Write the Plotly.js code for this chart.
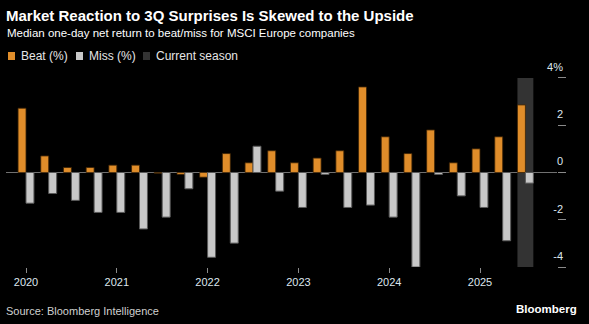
<!DOCTYPE html>
<html>
<head>
<meta charset="utf-8">
<script src="https://cdn.plot.ly/plotly-3.0.1.min.js"></script>
<style>
  html, body { margin: 0; padding: 0; background: #000; }
  #chart { width: 589px; height: 324px; }
</style>
</head>
<body>
<div id="chart"></div>
<script>
// ---- Data ----
const quarters = ["1Q20","2Q20","3Q20","4Q20","1Q21","2Q21","3Q21","4Q21",
                  "1Q22","2Q22","3Q22","4Q22","1Q23","2Q23","3Q23","4Q23",
                  "1Q24","2Q24","3Q24","4Q24","1Q25","2Q25","3Q25"];
const beat = [2.72, 0.70, 0.21, 0.21, 0.31, 0.31, -0.03, -0.08,
              -0.20, 0.80, 0.41, 0.92, 0.41, 0.61, 0.92, 3.62,
              1.51, 0.80, 1.80, 0.41, 1.00, 1.51, 2.86];
const miss = [-1.30, -0.89, -1.18, -1.69, -1.69, -2.39, -1.89, -0.69,
              -3.59, -2.99, 1.11, -0.79, -1.48, -0.08, -1.48, -1.38,
              -1.89, -4.00, -0.08, -0.99, -1.48, -2.89, -0.45];
const currentSeason = ["3Q25"];
const seasonLow = [-4];
const seasonHigh = [4];
const yearTickVals = ["1Q20","1Q21","1Q22","1Q23","1Q24","1Q25"];
const yearTickText = ["2020","2021","2022","2023","2024","2025"];
const yTickVals = [-4, -2, 0, 2, 4];
const yTickText = ["-4", "-2", "0", "2", "4%"];

// ---- Layout geometry ----
const W = 589, H = 324;
const UNIT = 23.66;              // px per 1 percentage point
const L = 6, R = 557, T = 45, B = 267.3;
const Y_MIN = -4, Y_MAX = Y_MIN + (B - T) / UNIT;
const PW = R - L, PH = B - T;
const px = x => (x - L) / PW;
const py = y => (B - y) / PH;

const FONT = "Liberation Sans, Arial, sans-serif";
const ORANGE = "#E08D2A";
const GREY = "#C8C8C8";
const SHADE = "#333333";

const traces = [
  {
    type: "bar", name: "Current season",
    x: currentSeason, y: seasonHigh.map((h, i) => h - seasonLow[i]), base: seasonLow,
    offset: -0.35, width: 0.70,
    marker: { color: SHADE, line: { width: 0 } },
    hoverinfo: "skip", showlegend: false
  },
  {
    type: "bar", name: "Beat (%)", x: quarters, y: beat,
    offset: -0.35, width: 0.35,
    marker: { color: ORANGE, line: { color: "rgba(60,35,5,0.8)", width: 1 } },
    showlegend: false
  },
  {
    type: "bar", name: "Miss (%)", x: quarters, y: miss,
    offset: 0, width: 0.35,
    marker: { color: GREY, line: { color: "#5a5a5a", width: 1 } },
    showlegend: false
  }
];

const legendItems = [
  { sq: [8, 15], tx: 19, label: "Beat (%)", color: ORANGE },
  { sq: [76, 83], tx: 87, label: "Miss (%)", color: GREY },
  { sq: [143, 150], tx: 154, label: "Current season", color: SHADE }
];

const shapes = legendItems.map(it => ({
  type: "rect", xref: "paper", yref: "paper",
  x0: px(it.sq[0]), x1: px(it.sq[1]), y0: py(60), y1: py(52),
  fillcolor: it.color, line: { width: 0 }
}));

const annotations = [
  {
    text: "Median one-day net return to beat/miss for MSCI Europe companies",
    xref: "paper", yref: "paper", x: px(5), y: py(33),
    xanchor: "left", yanchor: "middle", showarrow: false,
    font: { family: FONT, size: 11.5, color: "#ffffff" }
  },
  ...legendItems.map(it => ({
    text: it.label, xref: "paper", yref: "paper", x: px(it.tx), y: py(56),
    xanchor: "left", yanchor: "middle", showarrow: false,
    font: { family: FONT, size: 12, color: "#e6e6e6" }
  })),
  {
    text: "Source: Bloomberg Intelligence",
    xref: "paper", yref: "paper", x: px(4), y: py(311),
    xanchor: "left", yanchor: "middle", showarrow: false,
    font: { family: FONT, size: 11, color: "#d0d0d0" }
  },
  {
    text: "<b>Bloomberg</b>",
    xref: "paper", yref: "paper", x: px(579), y: py(309),
    xanchor: "right", yanchor: "middle", showarrow: false,
    font: { family: FONT, size: 11.5, color: "#ffffff" }
  }
];

const layout = {
  width: W, height: H,
  paper_bgcolor: "#000000", plot_bgcolor: "rgba(0,0,0,0)",
  margin: { l: L, r: W - R, t: T, b: H - B },
  barmode: "overlay",
  showlegend: false,
  font: { family: FONT, color: "#dddddd", size: 11 },
  title: {
    text: "<b>Market Reaction to 3Q Surprises Is Skewed to the Upside</b>",
    xref: "container", yref: "container",
    x: 6 / W, y: 1 - 16 / H, xanchor: "left", yanchor: "middle",
    font: { family: FONT, size: 15, color: "#ffffff" }
  },
  xaxis: {
    type: "category",
    categoryorder: "array", categoryarray: quarters,
    range: [(L - 26) / 22.7, (R - 26) / 22.7],
    tickmode: "array", tickvals: yearTickVals, ticktext: yearTickText,
    ticks: "outside", ticklen: 5, tickwidth: 1, tickcolor: "#8a8a8a",
    showgrid: false, showline: false, zeroline: false,
    tickfont: { family: FONT, size: 11, color: "#dde6ee" },
    fixedrange: true
  },
  yaxis: {
    side: "right",
    range: [Y_MIN, Y_MAX],
    tickmode: "array", tickvals: yTickVals, ticktext: yTickText,
    ticks: "outside", ticklen: 8, tickwidth: 1, tickcolor: "#8a8a8a",
    ticklabelposition: "inside",
    ticklabelstandoff: -9,
    ticklabelshift: -11,
    showgrid: false, showline: false,
    zeroline: true, zerolinecolor: "#707070", zerolinewidth: 1.5,
    tickfont: { family: FONT, size: 11, color: "#dde6ee" },
    fixedrange: true
  },
  shapes: shapes,
  annotations: annotations
};

Plotly.newPlot("chart", traces, layout, { staticPlot: true, displayModeBar: false });
</script>
</body>
</html>
